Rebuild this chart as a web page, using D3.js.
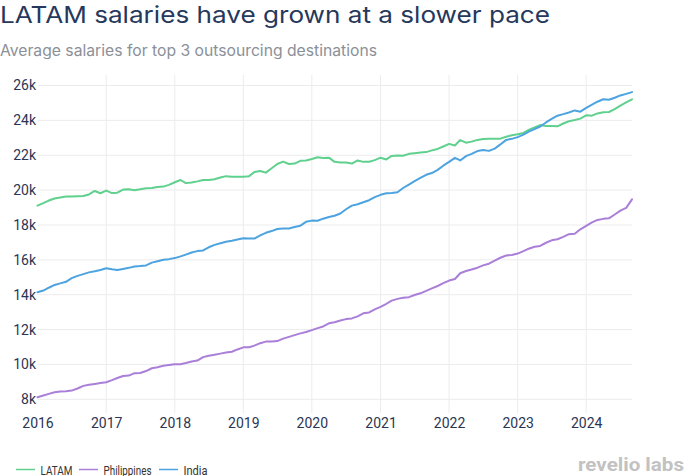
<!DOCTYPE html>
<html><head><meta charset="utf-8">
<script src="https://cdn.jsdelivr.net/npm/d3@7"></script>
<style>
html,body{margin:0;padding:0;background:#fff;}
svg{display:block;font-family:Roboto,"Noto Sans",sans-serif;}
</style></head>
<body>
<svg id="chart" width="688" height="476"></svg>
<script>
const title = "LATAM salaries have grown at a slower pace";
const subtitle = "Average salaries for top 3 outsourcing destinations";
const seriesNames = ["LATAM", "Philippines", "India"];
const seriesColors = ["#5fd08e", "#a97fd8", "#4ca3e0"];
const startYear = 2016, startMonth = 0; // monthly from Jan 2016
const yTicks = [8000, 10000, 12000, 14000, 16000, 18000, 20000, 22000, 24000, 26000];
const xTickYears = [2016, 2017, 2018, 2019, 2020, 2021, 2022, 2023, 2024];

const latam = [19.11,19.25,19.40,19.52,19.58,19.63,19.64,19.65,19.66,19.75,19.95,19.82,19.97,19.83,19.85,20.03,20.05,19.99,20.05,20.10,20.12,20.18,20.20,20.30,20.45,20.58,20.40,20.44,20.50,20.58,20.58,20.62,20.72,20.80,20.76,20.77,20.77,20.80,21.04,21.10,21.00,21.25,21.50,21.63,21.50,21.52,21.68,21.70,21.78,21.88,21.84,21.86,21.62,21.58,21.58,21.52,21.70,21.62,21.63,21.72,21.86,21.76,21.96,21.98,21.97,22.08,22.12,22.15,22.18,22.28,22.36,22.50,22.65,22.56,22.87,22.72,22.78,22.88,22.93,22.94,22.94,22.95,23.06,23.15,23.20,23.28,23.45,23.60,23.73,23.68,23.67,23.66,23.82,23.95,24.02,24.10,24.29,24.27,24.40,24.46,24.48,24.65,24.85,25.03,25.21];
const philippines = [8.12,8.22,8.31,8.40,8.45,8.46,8.50,8.62,8.77,8.83,8.88,8.93,8.98,9.10,9.22,9.34,9.36,9.50,9.51,9.62,9.78,9.84,9.92,9.97,10.01,10.01,10.08,10.17,10.22,10.42,10.50,10.56,10.62,10.68,10.73,10.86,10.98,10.99,11.08,11.22,11.31,11.31,11.34,11.48,11.58,11.68,11.78,11.86,11.97,12.08,12.18,12.36,12.42,12.52,12.60,12.64,12.76,12.93,12.98,13.16,13.30,13.48,13.66,13.76,13.82,13.86,13.98,14.08,14.22,14.36,14.50,14.66,14.81,14.90,15.23,15.36,15.45,15.55,15.68,15.78,15.95,16.12,16.25,16.28,16.36,16.50,16.64,16.75,16.80,16.98,17.12,17.18,17.32,17.47,17.50,17.75,17.95,18.15,18.29,18.35,18.38,18.60,18.82,18.98,19.47];
const india = [14.14,14.24,14.40,14.56,14.65,14.74,14.95,15.08,15.18,15.28,15.34,15.42,15.52,15.46,15.42,15.48,15.54,15.62,15.64,15.68,15.84,15.92,16.00,16.04,16.10,16.20,16.30,16.42,16.50,16.54,16.72,16.86,16.95,17.04,17.10,17.17,17.24,17.22,17.22,17.40,17.55,17.65,17.77,17.80,17.80,17.88,17.96,18.18,18.25,18.24,18.36,18.46,18.53,18.66,18.90,19.11,19.19,19.30,19.42,19.60,19.73,19.82,19.84,19.88,20.12,20.32,20.52,20.70,20.88,20.98,21.16,21.40,21.62,21.85,21.70,21.95,22.08,22.24,22.30,22.25,22.38,22.62,22.88,22.94,23.04,23.18,23.35,23.50,23.65,23.88,24.08,24.27,24.36,24.45,24.57,24.50,24.72,24.90,25.07,25.21,25.18,25.30,25.43,25.52,25.62];

const seriesData = [latam, philippines, india];

const svg = d3.select("#chart");
const m = {left: 37.5, right: 632, top: 75, bottom: 413};

const x = d3.scaleTime()
  .domain([new Date(startYear, 0, 1), new Date(startYear, latam.length - 1, 1)])
  .range([m.left, m.right]);
const y = d3.scaleLinear().domain([8000, 26000]).range([399.3, 85.5]);

// title
svg.append("text").attr("x", 0).attr("y", 22.5).attr("fill", "#26385c")
  .attr("font-family", "Inter, Roboto, sans-serif")
  .attr("font-size", 23).attr("font-weight", 400)
  .attr("textLength", 550).attr("lengthAdjust", "spacingAndGlyphs").text(title);
svg.append("text").attr("x", 0).attr("y", 56).attr("fill", "#8b9098")
  .attr("font-family", "Inter, Roboto, sans-serif")
  .attr("font-size", 15.3)
  .attr("textLength", 377).attr("lengthAdjust", "spacingAndGlyphs").text(subtitle);

// grid
const grid = svg.append("g");
grid.selectAll("line.h").data(yTicks).join("line")
  .attr("x1", m.left).attr("x2", m.right)
  .attr("y1", d => y(d)).attr("y2", d => y(d))
  .attr("stroke", "#ececef").attr("stroke-width", 1);
grid.selectAll("line.v").data(xTickYears.slice(1)).join("line")
  .attr("x1", d => x(new Date(d, 0, 1))).attr("x2", d => x(new Date(d, 0, 1)))
  .attr("y1", m.top).attr("y2", m.bottom)
  .attr("stroke", "#ececef").attr("stroke-width", 1);

// y axis
const yAxis = d3.axisLeft(y).tickValues(yTicks).tickSize(0).tickPadding(0)
  .tickFormat(d => (d / 1000) + "k");
const gy = svg.append("g").attr("transform", `translate(36,0)`).call(yAxis);
gy.select(".domain").remove();
gy.selectAll("text").attr("font-size", 14).attr("fill", "#2b3553")
  .attr("font-family", "Roboto, sans-serif");

// x axis
const xAxis = d3.axisBottom(x).tickValues(xTickYears.map(d => new Date(d, 0, 1)))
  .tickSize(0).tickPadding(0).tickFormat(d3.timeFormat("%Y"));
const gx = svg.append("g").attr("transform", `translate(0,413)`).call(xAxis);
gx.select(".domain").remove();
gx.selectAll("text").attr("font-size", 14).attr("fill", "#2b3553").attr("dy", "1.05em")
  .attr("font-family", "Roboto, sans-serif");

// lines
const line = d3.line()
  .x((d, i) => x(new Date(startYear, startMonth + i, 1)))
  .y(d => y(d * 1000));
svg.append("g").selectAll("path").data(seriesData).join("path")
  .attr("d", d => line(d)).attr("fill", "none")
  .attr("stroke", (d, i) => seriesColors[i]).attr("stroke-width", 2)
  .attr("stroke-linejoin", "round").attr("stroke-linecap", "round");

// legend
const legX = [16, 79, 159];
const legW = [32, 48, 24];
const lg = svg.append("g");
seriesNames.forEach((n, i) => {
  lg.append("line").attr("x1", legX[i]).attr("x2", legX[i] + 19)
    .attr("y1", 469.5).attr("y2", 469.5).attr("stroke", seriesColors[i]).attr("stroke-width", 1.5);
  lg.append("text").attr("x", legX[i] + 24.5).attr("y", 474.5).attr("font-size", 13)
    .attr("fill", "#333").attr("textLength", legW[i]).attr("lengthAdjust", "spacingAndGlyphs").text(n);
});

// logo
svg.append("text").attr("x", 578).attr("y", 470.5)
  .attr("font-size", 18.5).attr("font-weight", 700).attr("fill", "#c2c2c2")
  .attr("textLength", 106).attr("lengthAdjust", "spacingAndGlyphs").text("revelio labs");
</script>
</body></html>
